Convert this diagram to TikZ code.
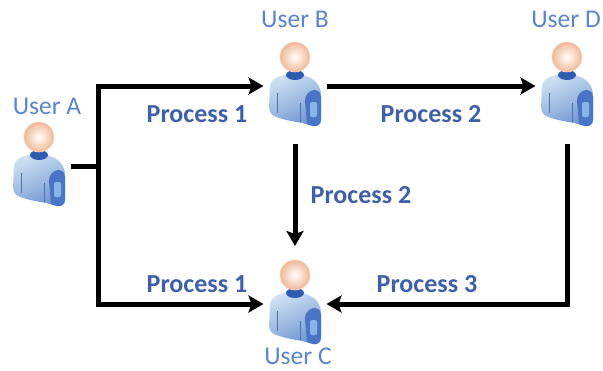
\documentclass[tikz,border=0pt]{standalone}
\usepackage{fontspec}
\setmainfont{Carlito}
\usetikzlibrary{arrows.meta}
\definecolor{proc}{HTML}{3F5FA8}
\definecolor{uname}{HTML}{5B84CF}
\definecolor{bodylight}{HTML}{CFE1F3}
\definecolor{bodydark}{HTML}{6F96D2}
\definecolor{armdark}{HTML}{4A74C4}
\definecolor{armlight}{HTML}{86B4E8}
\definecolor{collar}{HTML}{2F5CB0}
\definecolor{crease}{HTML}{5070A8}
\definecolor{skin}{HTML}{F0B896}
\tikzset{
  x=1pt,y=-1pt,
  usernode/.style={minimum width=63pt,minimum height=116pt,inner sep=0pt,outer sep=0pt},
  flow/.style={line width=5pt,black,line join=miter},
  flowarrow/.style={flow,-{Stealth[length=15pt,width=17pt,inset=3pt]}},
  proclabel/.style={font=\fontsize{26}{27}\selectfont\bfseries,text=proc,inner sep=0pt},
  userlabel/.style={font=\fontsize{25.5}{27}\selectfont,text=uname,inner sep=0pt},
  pics/userfig/.style={code={
    % body
    \shade[top color=bodylight,bottom color=bodydark,shading angle=25]
      (-7,17) .. controls (-16,19) and (-25,21) .. (-25,31)
      -- (-26,50) .. controls (-26,57) and (-22,59) .. (-16,61)
      .. controls (-6,64) and (2,65) .. (7,66)
      -- (18,69) .. controls (23,70) and (26,67) .. (26,62)
      -- (26,39) .. controls (26,30) and (22,22) .. (8,18)
      .. controls (3,16) and (-3,16) .. (-7,17) -- cycle;
    % arm panel
    \fill[armdark]
      (10,44) .. controls (10,36) and (16,33) .. (20,33)
      .. controls (25,34) and (26,37) .. (26,40)
      -- (26,62) .. controls (26,67) and (23,70) .. (18,69)
      -- (12,67) -- cycle;
    \fill[rounded corners=2pt,armlight] (15,45) rectangle (22,60);
    % creases
    \draw[crease,line width=.8pt] (-18,36) -- (-18,56);
    \draw[crease,line width=.8pt] (5,46) -- (5,65);
    % collar
    \fill[collar] (0,18) ellipse [x radius=9,y radius=5];
    % head
    \shade[inner color=white,outer color=skin,draw=skin!60!white,line width=.6pt]
      (0,0) circle [radius=15];
  }}
}
\begin{document}
\begin{tikzpicture}
\useasboundingbox (0,0) rectangle (603,370);
\fill[white] (0,0) rectangle (603,370);

\node[usernode] (ua) at (39,166) {};
\node[usernode] (ub) at (295,86) {};
\node[usernode] (uc) at (295,304) {};
\node[usernode] (ud) at (567,86) {};

\pic at (39,137) {userfig};
\pic at (295,57) {userfig};
\pic at (295,275) {userfig};
\pic at (567,57) {userfig};

\node[userlabel] (la) at (47,106) {User A};
\node[userlabel] (lb) at (295,19) {User B};
\node[userlabel] (lc) at (298,356.5) {User C};
\node[userlabel] (ld) at (566,19) {User D};

\coordinate (junction) at (98,166);
\draw[flow] (ua.east) -- (junction);
\draw[flowarrow] (junction) |- (ub.west);
\draw[flowarrow] (junction) |- (uc.west);
\draw[flowarrow] (ub.east) -- (ud.west);
\draw[flowarrow] (ub.south) -- (uc.north);
\draw[flowarrow] (ud.south) |- (uc.east);

\node[proclabel] (p1) at (197,114) {Process 1};
\node[proclabel] (p2) at (431,114) {Process 2};
\node[proclabel] (p3) at (361,195) {Process 2};
\node[proclabel] (p4) at (197,284) {Process 1};
\node[proclabel] (p5) at (427,284) {Process 3};
\end{tikzpicture}
\end{document}
